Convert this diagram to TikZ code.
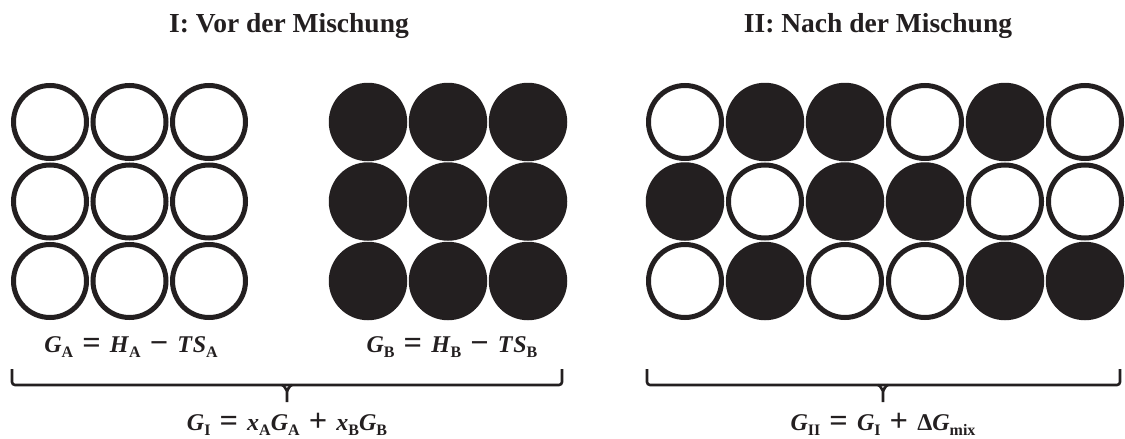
\documentclass[tikz,border=0pt]{standalone}
\usepackage{graphicx}
\usepackage{fontspec}
\setmainfont{Liberation Serif}
\definecolor{ink}{RGB}{35,31,32}
\newcommand\V[1]{\textbf{\textit{#1}}}
\newcommand\Sb[1]{\raisebox{-0.24em}{\fontsize{16}{16}\selectfont\bfseries #1}}
\newcommand\Rel[1]{\hspace{0.38em}\raisebox{-0.08em}{\scalebox{1.35}{\textbf{#1}}}\hspace{0.38em}}
\tikzset{
  whiteball/.style={circle, draw=ink, line width=5pt, fill=white, minimum size=73pt, inner sep=0pt},
  blackball/.style={circle, fill=ink, draw=none, minimum size=78.5pt, inner sep=0pt},
  title/.style={anchor=base, inner sep=0pt, font=\fontsize{27.5}{27.5}\selectfont\bfseries, text=ink},
  formula/.style={anchor=base, inner sep=0pt, font=\fontsize{24}{24}\selectfont\bfseries, text=ink},
  bracket/.style={draw=ink, line width=2.6pt, rounded corners=3pt},
  brtip/.style={draw=ink, line width=2.6pt}
}
\begin{document}
\begin{tikzpicture}[x=1pt,y=-1pt]
\useasboundingbox (0,0) rectangle (1125,439);
% titles
\node[title] (t1) at (289,32) {I: Vor der Mischung};
\node[title] (t2) at (878,32) {II: Nach der Mischung};
% left group: A (white)
\foreach \c/\x in {1/50,2/129.5,3/209}{
  \foreach \r/\y in {1/122,2/201.5,3/281}{
    \node[whiteball] (a\r\c) at (\x,\y) {};
  }
}
% middle group: B (black)
\foreach \c/\x in {1/368,2/448,3/528}{
  \foreach \r/\y in {1/122,2/201.5,3/281}{
    \node[blackball] (b\r\c) at (\x,\y) {};
  }
}
% right group: mixture (0 = white, 1 = black)
\foreach \r/\y/\pat in {1/122/{0,1,1,0,1,0},2/201.5/{1,0,1,1,0,0},3/281/{0,1,0,0,1,1}}{
  \foreach \k [count=\c] in \pat {
    \pgfmathsetmacro\xx{685+80*(\c-1)}
    \ifnum\k=0\relax
      \node[whiteball] (m\r\c) at (\xx,\y) {};
    \else
      \node[blackball] (m\r\c) at (\xx,\y) {};
    \fi
  }
}
% formulas
\node[formula] (ga) at (131,352) {\V{G}\Sb{A}\Rel{=}\V{H}\Sb{A}\Rel{−}\V{T}\V{S}\Sb{A}};
\node[formula] (gb) at (452,352) {\V{G}\Sb{B}\Rel{=}\V{H}\Sb{B}\Rel{−}\V{T}\V{S}\Sb{B}};
% braces
\coordinate (l1) at (12,369);
\coordinate (l2) at (562,369);
\coordinate (lm) at (287,385);
\coordinate (la) at (282,385);
\coordinate (lb) at (292,385);
\coordinate (lc) at (287,390);
\coordinate (ld) at (287,402);
\coordinate (r1) at (647,369);
\coordinate (r2) at (1120,369);
\coordinate (rm) at (883,385);
\coordinate (ra) at (878,385);
\coordinate (rb) at (888,385);
\coordinate (rc) at (883,390);
\coordinate (rd) at (883,402);
\draw[bracket] (l1) -- (l1 |- lm) -- (l2 |- lm) -- (l2);
\draw[brtip] (la) to[out=0,in=-90] (lc) -- (ld);
\draw[brtip] (lb) to[out=180,in=-90] (lc);
\draw[bracket] (r1) -- (r1 |- rm) -- (r2 |- rm) -- (r2);
\draw[brtip] (ra) to[out=0,in=-90] (rc) -- (rd);
\draw[brtip] (rb) to[out=180,in=-90] (rc);
% bottom formulas
\node[formula] (gi) at (287,430) {\V{G}\Sb{I}\Rel{=}\V{x}\Sb{A}\V{G}\Sb{A}\Rel{+}\V{x}\Sb{B}\V{G}\Sb{B}};
\node[formula] (gii) at (883,430) {\V{G}\Sb{II}\Rel{=}\V{G}\Sb{I}\Rel{+}\textbf{Δ}\V{G}\Sb{mix}};
\end{tikzpicture}
\end{document}
